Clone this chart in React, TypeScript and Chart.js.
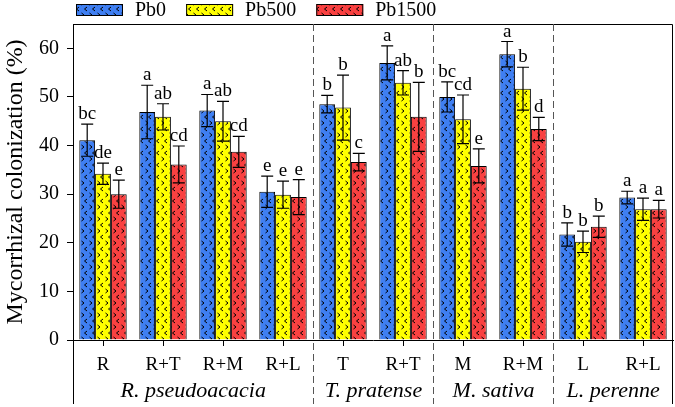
import { useEffect, useRef } from 'react';
import { Chart, registerables } from 'chart.js';

Chart.register(...registerables);

const categories = ['R', 'R+T', 'R+M', 'R+L', 'T', 'R+T', 'M', 'R+M', 'L', 'R+L'];
const groupNames = ['R. pseudoacacia', 'T. pratense', 'M. sativa', 'L. perenne'];
const groupSpans = [4, 2, 2, 2];
const seriesNames = ['Pb0', 'Pb500', 'Pb1500'];
const seriesColors = ['#3f7ff2', '#ffff00', '#f94141'];

const pb0 = [41.1, 46.9, 47.2, 30.5, 48.5, 57.0, 50.0, 58.8, 21.7, 29.3];
const pb0Err = [3.3, 5.5, 3.3, 3.2, 1.8, 3.5, 3.1, 2.6, 2.4, 1.3];
const pb0Letters = ['bc', 'a', 'a', 'e', 'b', 'a', 'bc', 'a', 'b', 'a'];

const pb500 = [34.2, 45.9, 45.0, 29.9, 47.8, 52.9, 45.4, 51.7, 20.2, 26.9];
const pb500Err = [2.2, 2.7, 4.1, 2.8, 6.7, 2.5, 5.0, 4.4, 2.2, 2.3];
const pb500Letters = ['de', 'ab', 'ab', 'e', 'b', 'ab', 'cd', 'b', 'b', 'a'];

const pb1500 = [30.0, 36.1, 38.7, 29.4, 36.6, 45.9, 35.8, 43.4, 23.3, 26.9];
const pb1500Err = [2.9, 3.8, 3.2, 3.6, 1.8, 7.1, 3.5, 2.4, 2.2, 1.8];
const pb1500Letters = ['e', 'cd', 'cd', 'e', 'c', 'b', 'e', 'd', 'b', 'a'];

const yTicks = [0, 10, 20, 30, 40, 50, 60];
const yMax = 65;
const yTitle = 'Mycorrhizal colonization (%)';

const seriesValues = [pb0, pb500, pb1500];
const seriesErrors = [pb0Err, pb500Err, pb1500Err];
const seriesLetters = [pb0Letters, pb500Letters, pb1500Letters];

const FONT = '"Liberation Serif", "Times New Roman", serif';

function makePattern(color: string): CanvasPattern | string {
  const c = document.createElement('canvas');
  c.width = 8;
  c.height = 12;
  const g = c.getContext('2d');
  if (!g) return color;
  g.fillStyle = color;
  g.fillRect(0, 0, 8, 12);
  g.strokeStyle = '#000';
  g.lineWidth = 1;
  const chev = (x: number, y: number, dir: number) => {
    g.beginPath();
    if (dir < 0) {
      g.moveTo(x + 2.5, y);
      g.lineTo(x, y + 2);
      g.lineTo(x + 2.5, y + 4);
    } else {
      g.moveTo(x, y);
      g.lineTo(x + 2.5, y + 2);
      g.lineTo(x, y + 4);
    }
    g.stroke();
  };
  chev(1.5, 1, 1);
  chev(4.5, 7, -1);
  const ctx2 = document.createElement('canvas').getContext('2d');
  const p = ctx2 ? ctx2.createPattern(c, 'repeat') : null;
  return p || color;
}

const decorPlugin = {
  id: 'decor',
  afterDatasetsDraw(chart: any) {
    const ctx = chart.ctx;
    const y = chart.scales.y;
    ctx.save();
    ctx.strokeStyle = '#000';
    ctx.fillStyle = '#000';
    ctx.lineWidth = 1.2;
    ctx.font = `19px ${FONT}`;
    ctx.textAlign = 'center';
    ctx.textBaseline = 'alphabetic';
    seriesValues.forEach((vals, si) => {
      const meta = chart.getDatasetMeta(si);
      vals.forEach((v, i) => {
        const bar = meta.data[i];
        const x = bar.x;
        const e = seriesErrors[si][i];
        const top = y.getPixelForValue(v + e);
        const bot = y.getPixelForValue(v - e);
        ctx.beginPath();
        ctx.moveTo(x, top);
        ctx.lineTo(x, bot);
        ctx.moveTo(x - 6, top);
        ctx.lineTo(x + 6, top);
        ctx.moveTo(x - 6, bot);
        ctx.lineTo(x + 6, bot);
        ctx.stroke();
        ctx.fillText(seriesLetters[si][i], x, top - 5);
      });
    });
    ctx.restore();
  },
  afterDraw(chart: any) {
    const ctx = chart.ctx;
    const { left, right, top } = chart.chartArea;
    const xs = chart.scales.x;
    const H = chart.height;
    const lowEnd = H - 3;
    ctx.save();
    ctx.strokeStyle = '#000';
    ctx.lineWidth = 1;
    ctx.beginPath();
    ctx.moveTo(left + 0.5, lowEnd);
    ctx.lineTo(left + 0.5, top + 0.5);
    ctx.lineTo(right - 0.5, top + 0.5);
    ctx.lineTo(right - 0.5, lowEnd);
    ctx.stroke();
    ctx.strokeStyle = '#555';
    ctx.setLineDash([7, 4]);
    let idx = 0;
    const bounds: number[] = [left];
    groupSpans.forEach((span) => {
      idx += span;
      if (idx < categories.length) {
        const xb = Math.round((xs.getPixelForValue(idx - 1) + xs.getPixelForValue(idx)) / 2) + 0.5;
        bounds.push(xb);
        ctx.beginPath();
        ctx.moveTo(xb, top);
        ctx.lineTo(xb, lowEnd);
        ctx.stroke();
      }
    });
    bounds.push(right);
    ctx.setLineDash([]);
    ctx.fillStyle = '#000';
    ctx.font = `italic 22px ${FONT}`;
    ctx.textAlign = 'center';
    ctx.textBaseline = 'alphabetic';
    groupNames.forEach((name, gi) => {
      ctx.fillText(name, (bounds[gi] + bounds[gi + 1]) / 2, 397);
    });
    ctx.font = `20px ${FONT}`;
    ctx.textAlign = 'left';
    ctx.textBaseline = 'middle';
    let lx = 76;
    chart.data.datasets.forEach((ds: any, di: number) => {
      ctx.fillStyle = ds.backgroundColor;
      ctx.fillRect(lx, 4, 47, 12);
      ctx.strokeStyle = '#000';
      ctx.lineWidth = 1;
      ctx.strokeRect(lx + 0.5, 4.5, 46, 11);
      ctx.fillStyle = '#000';
      ctx.fillText(seriesNames[di], lx + 59, 11);
      lx += 59 + ctx.measureText(seriesNames[di]).width + 20;
    });
    ctx.restore();
  },
};

export default function App() {
  const ref = useRef<HTMLCanvasElement | null>(null);
  useEffect(() => {
    if (!ref.current) return;
    const chart = new Chart(ref.current, {
      type: 'bar',
      data: {
        labels: categories,
        datasets: seriesValues.map((vals, si) => ({
          label: seriesNames[si],
          data: vals,
          backgroundColor: makePattern(seriesColors[si]) as any,
          borderColor: '#000',
          borderWidth: 1,
          categoryPercentage: 0.79,
          barPercentage: 1.0,
        })),
      },
      options: {
        animation: false,
        responsive: true,
        maintainAspectRatio: false,
        events: [],
        layout: { padding: { top: 24, right: 2, left: 0, bottom: 0 } },
        plugins: {
          legend: { display: false },
          tooltip: { enabled: false },
          title: { display: false },
        },
        scales: {
          x: {
            type: 'category',
            offset: true,
            grid: {
              display: true,
              drawOnChartArea: false,
              drawTicks: true,
              tickLength: 6,
              offset: false,
              color: '#000',
            },
            border: { display: true, color: '#000', width: 1 },
            ticks: {
              color: '#000',
              padding: 8,
              maxRotation: 0,
              autoSkip: false,
              font: { family: FONT, size: 19 },
            },
            afterFit: (s: any) => {
              s.height = 67;
            },
          },
          y: {
            type: 'linear',
            min: 0,
            max: yMax,
            grid: {
              display: true,
              drawOnChartArea: false,
              drawTicks: true,
              tickLength: 6,
              color: '#000',
            },
            border: { display: true, color: '#000', width: 1 },
            ticks: {
              color: '#000',
              padding: 8,
              font: { family: FONT, size: 20 },
            },
            afterBuildTicks: (s: any) => {
              s.ticks = yTicks.map((v) => ({ value: v }));
            },
            afterFit: (s: any) => {
              s.width = 73;
            },
            title: {
              display: true,
              text: yTitle,
              color: '#000',
              padding: { top: 1, bottom: 0 },
              font: { family: FONT, size: 24 },
            },
          },
        },
      },
      plugins: [decorPlugin],
    });
    return () => chart.destroy();
  }, []);
  return (
    <div style={{ position: 'fixed', left: 0, top: 0, width: 675, height: 407 }}>
      <canvas ref={ref} />
    </div>
  );
}
